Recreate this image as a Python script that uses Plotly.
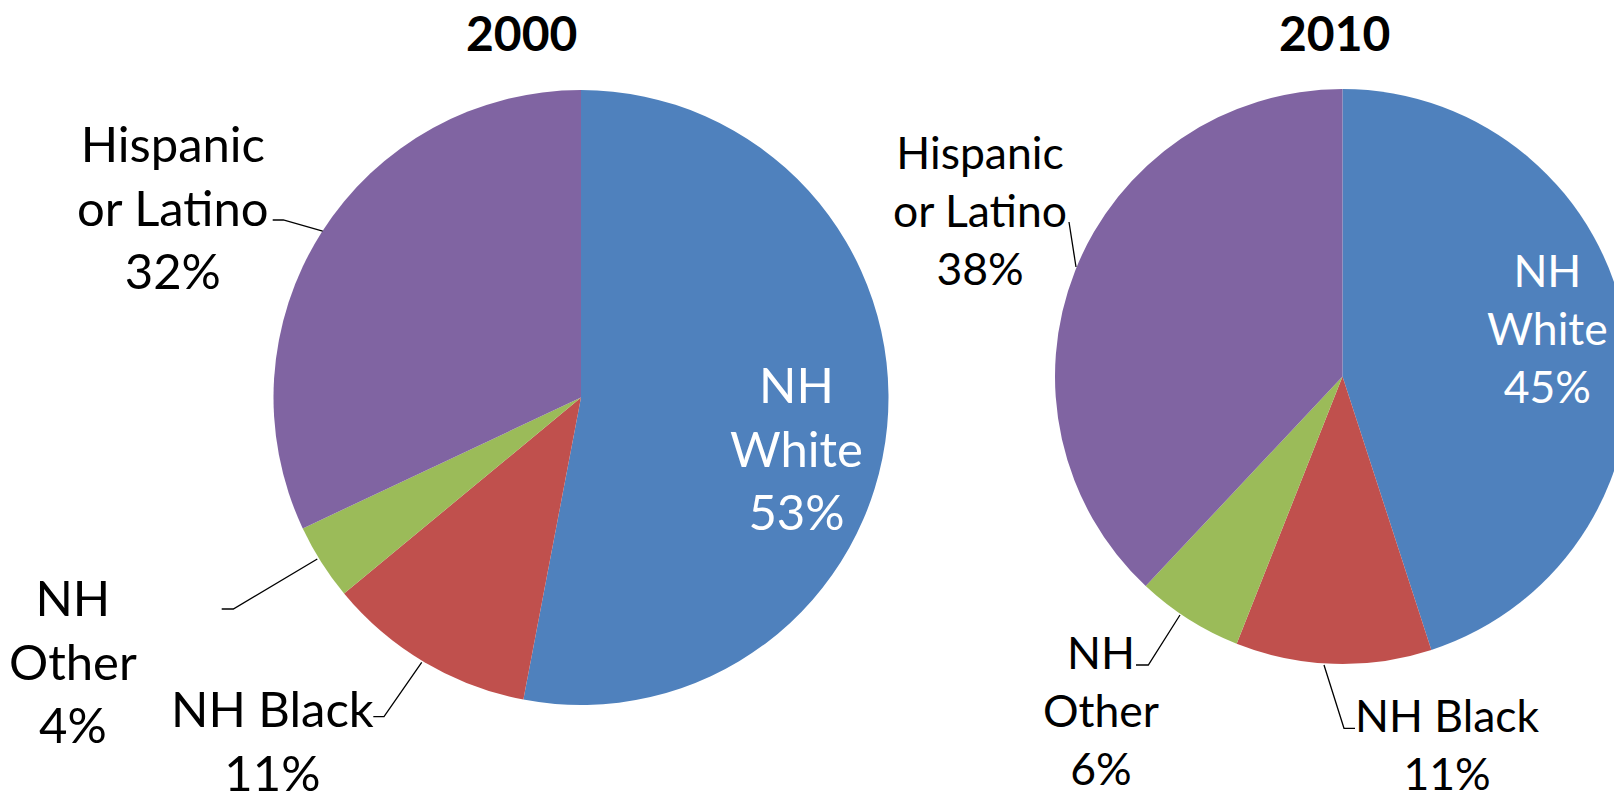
import plotly.graph_objects as go

# ---- data ----
categories = ["NH White", "NH Black", "NH Other", "Hispanic or Latino"]
values_2000 = [53, 11, 4, 32]
values_2010 = [45, 11, 6, 38]
years = ["2000", "2010"]
label_lines = {
    "NH White": "NH<br>White",
    "NH Black": "NH Black",
    "NH Other": "NH<br>Other",
    "Hispanic or Latino": "Hispanic<br>or Latino",
}
colors = ["#4F81BD", "#C0504D", "#9BBB59", "#8064A2"]

W, H = 1622, 794
OFF = 8  # page body margin in the browser
FONT = "Lato, Calibri, 'Open Sans', sans-serif"


def px(x):
    return (x - OFF) / W


def py(y):
    return 1 - (y - OFF) / H


fig = go.Figure()

pie_boxes = [
    dict(x=[px(273.5), px(888.5)], y=[py(705), py(90)]),
    dict(x=[px(1055), 1.0], y=[py(665), py(88)]),
]
for vals, year, dom in zip([values_2000, values_2010], years, pie_boxes):
    fig.add_trace(go.Pie(
        labels=categories, values=vals, sort=False, direction="clockwise",
        rotation=0, textinfo="none", hoverinfo="label+percent",
        marker=dict(colors=colors, line=dict(width=0)),
        domain=dom, showlegend=False, name=year,
    ))

annotations = []
# titles
for year, cx in zip(years, [521, 1334]):
    annotations.append(dict(
        text=f"<b>{year}</b>", x=px(cx), y=py(33), xref="paper", yref="paper",
        showarrow=False, xanchor="center", yanchor="middle",
        font=dict(family=FONT, size=48, color="black")))

# label positions (layout only)
label_pos = [
    # 2000
    {"NH White": (796, 447), "NH Black": (272, 740), "NH Other": (73, 660),
     "Hispanic or Latino": (173, 206)},
    # 2010
    {"NH White": (1547, 328), "NH Black": (1447, 743), "NH Other": (1101, 709),
     "Hispanic or Latino": (980, 210)},
]
font_sizes = [49, 44.5]
for vals, pos, fs in zip([values_2000, values_2010], label_pos, font_sizes):
    for cat, v in zip(categories, vals):
        cx, cy = pos[cat]
        annotations.append(dict(
            text=f"{label_lines[cat]}<br>{v}%", x=px(cx), y=py(cy),
            xref="paper", yref="paper", showarrow=False,
            xanchor="center", yanchor="middle", align="center",
            font=dict(family=FONT, size=fs,
                      color="white" if cat == "NH White" else "black")))

# leader lines (pixel paths)
leaders = [
    [(272.7, 220), (283.3, 220), (322.7, 231)],
    [(221.7, 609), (233.3, 609), (317.3, 559)],
    [(373.3, 716.7), (384, 716.7), (421.7, 662.3)],
    [(1069, 222), (1076, 267)],
    [(1136, 665), (1148.3, 665), (1180, 615)],
    [(1355, 728.3), (1344, 728.3), (1324, 665)],
]
shapes = []
for pts in leaders:
    path = "M " + " L ".join(f"{px(x):.5f},{py(y):.5f}" for x, y in pts)
    shapes.append(dict(type="path", path=path, xref="paper", yref="paper",
                       line=dict(color="black", width=1.3)))

fig.update_layout(
    width=W, height=H, margin=dict(l=0, r=0, t=0, b=0),
    paper_bgcolor="white", plot_bgcolor="white",
    annotations=annotations, shapes=shapes,
)

fig.write_html("out.html")
